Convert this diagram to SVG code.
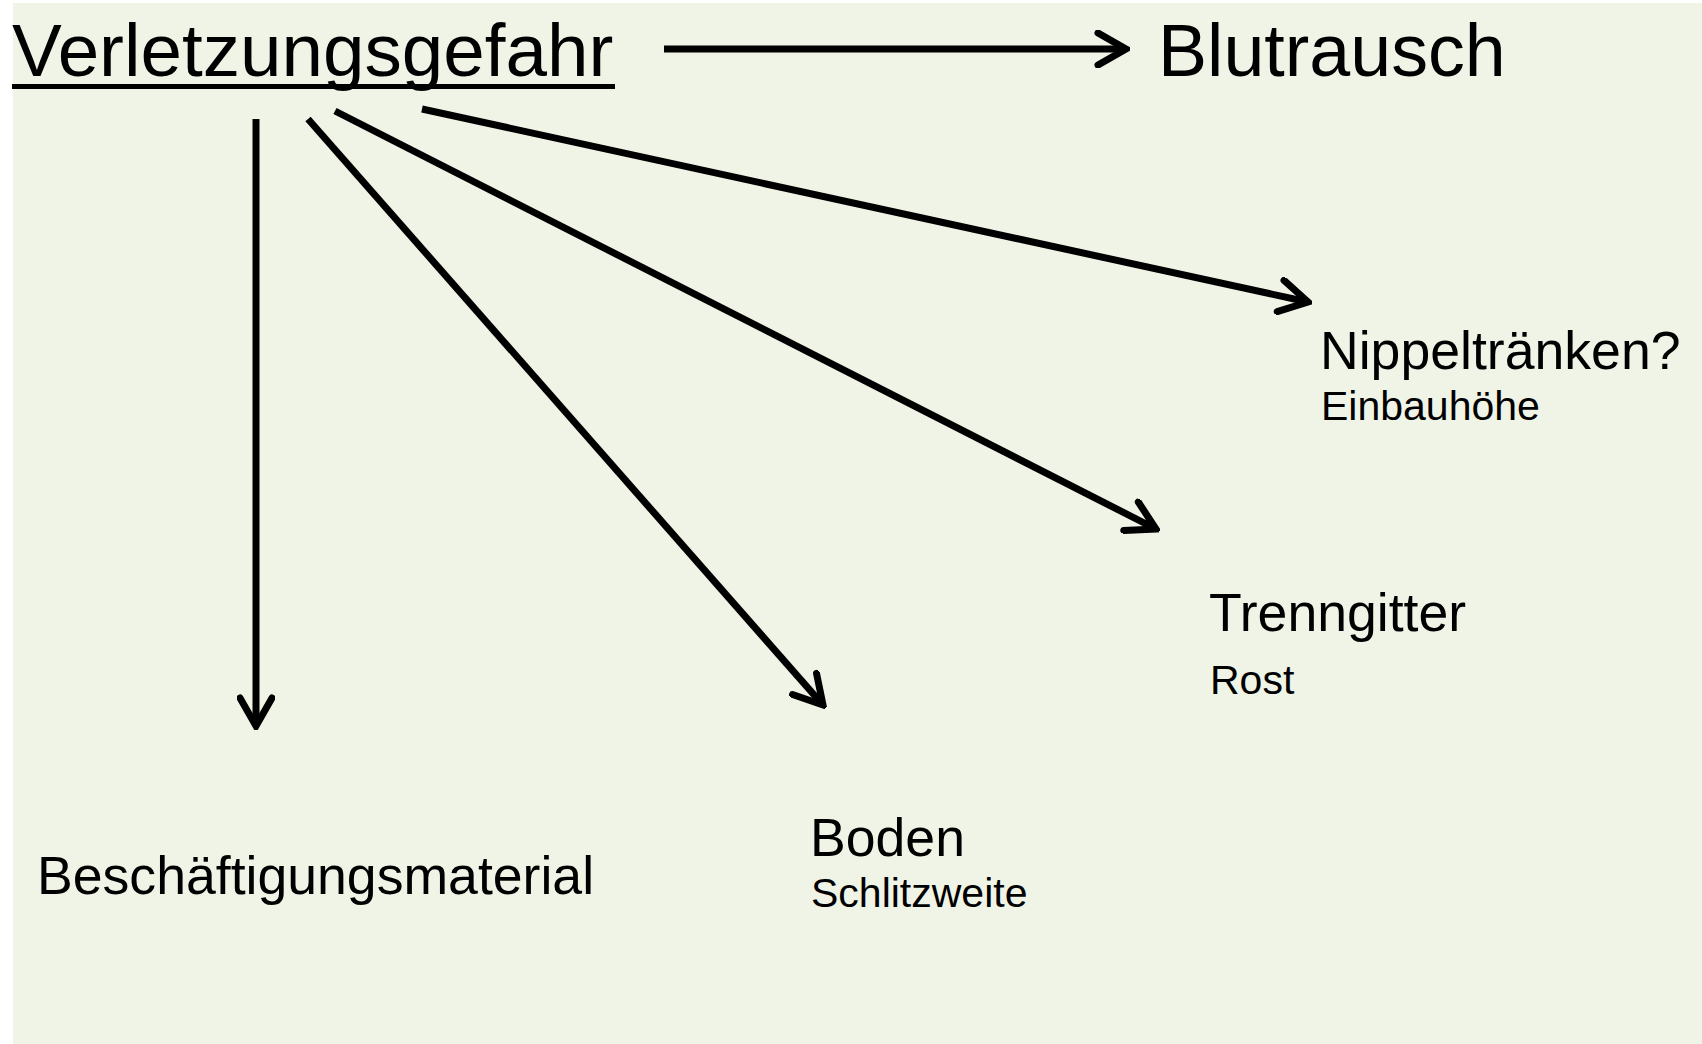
<svg xmlns="http://www.w3.org/2000/svg" width="1702" height="1044" viewBox="0 0 1702 1044">
<defs>
<style>
.t{font-family:"Liberation Sans",Arial,sans-serif;fill:#000}
.big{font-size:74.6px}
.mid{font-size:53.6px}
.sm{font-size:41px}
.c{stroke:#000;stroke-width:7;fill:none}
</style>
<marker id="ah" markerUnits="userSpaceOnUse" viewBox="0 0 36 38" markerWidth="36" markerHeight="38" refX="32" refY="19" orient="auto">
<path d="M4,3 L32,19 L4,35" fill="none" stroke="#000" stroke-width="7" stroke-linecap="round" stroke-linejoin="miter"/>
</marker>
</defs>
<rect x="0" y="0" width="1702" height="1044" fill="#ffffff"/>
<rect x="13" y="3" width="1689" height="1041" fill="#F0F4E7"/>
<g id="verletzungsgefahr">
<text class="t big" x="12" y="76">Verletzungsgefahr</text>
<rect x="12" y="84" width="603" height="5" fill="#000"/>
</g>
<g id="blutrausch"><text class="t big" x="1158" y="76" style="font-size:73.6px">Blutrausch</text></g>
<g id="nippeltraenken">
<text class="t mid" x="1320" y="369">Nippeltränken?</text>
<text class="t sm" x="1321" y="420">Einbauhöhe</text>
</g>
<g id="trenngitter">
<text class="t mid" x="1209" y="631">Trenngitter</text>
<text class="t sm" x="1210" y="694">Rost</text>
</g>
<g id="boden">
<text class="t mid" x="810" y="856">Boden</text>
<text class="t sm" x="811" y="907">Schlitzweite</text>
</g>
<g id="beschaeftigungsmaterial">
<text class="t mid" x="37" y="894">Beschäftigungsmaterial</text>
</g>
<g id="connectors">
<line class="c" x1="664" y1="49" x2="1126" y2="49" marker-end="url(#ah)"/>
<line class="c" x1="256" y1="119" x2="256" y2="726" marker-end="url(#ah)"/>
<line class="c" x1="308" y1="119" x2="823" y2="705" marker-end="url(#ah)"/>
<line class="c" x1="335" y1="111" x2="1156" y2="529" marker-end="url(#ah)"/>
<line class="c" x1="422" y1="109" x2="1308" y2="302" marker-end="url(#ah)"/>
</g>
</svg>
